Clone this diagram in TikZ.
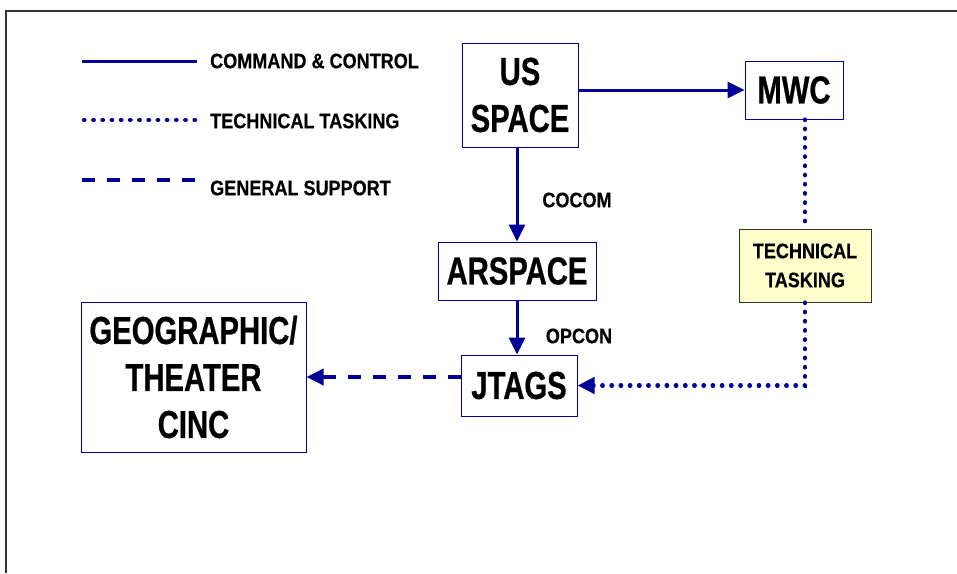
\documentclass[tikz,border=0pt]{standalone}
\usepackage{fontspec}
\setmainfont{Liberation Sans}
\newfontfamily\bigf[FakeStretch=0.75,FakeBold=0.6]{Liberation Sans}
\newfontfamily\smallf[FakeStretch=0.86,FakeBold=0.4]{Liberation Sans}
\usetikzlibrary{arrows.meta}
\definecolor{navy}{RGB}{0,0,153}
\definecolor{ttfill}{RGB}{255,255,204}
\begin{document}
\begin{tikzpicture}[x=1pt,y=-1pt,
 box/.style={draw=navy,line width=1pt,inner sep=0pt,align=center,font=\bigf\bfseries\fontsize{39}{47}\selectfont},
 lbl/.style={font=\smallf\bfseries\fontsize{21}{29}\selectfont,inner sep=0pt,align=center},
 ccline/.style={draw=navy,line width=3pt},
 ttline/.style={draw=navy,line width=4.2pt,line cap=round,dash pattern=on 0.6pt off 8.6pt},
 gsline/.style={draw=navy,line width=3.5pt,dash pattern=on 13pt off 12pt},
 tip/.style={-{Triangle[length=17pt,width=16pt]}}]
\useasboundingbox (0,0) rectangle (957,573);
\fill[white] (0,0) rectangle (957,573);
% frame
\coordinate (fr1) at (957,11);
\coordinate (fr2) at (6,11);
\coordinate (fr3) at (6,573);
\draw[line width=1.5pt,black!80] (fr1) -- (fr2) -- (fr3);
% legend
\coordinate (l1a) at (82,61); \coordinate (l1b) at (197,61);
\coordinate (l2a) at (84,120); \coordinate (l2b) at (197,120);
\coordinate (l3a) at (82,180); \coordinate (l3b) at (197,180);
\draw[ccline] (l1a) -- (l1b);
\draw[ttline] (l2a) -- (l2b);
\draw[gsline] (l3a) -- (l3b);
\node[lbl,anchor=west] (t1) at (210,61) {COMMAND \& CONTROL};
\node[lbl,anchor=west] (t2) at (210,121) {TECHNICAL TASKING};
\node[lbl,anchor=west] (t3) at (210,188) {GENERAL SUPPORT};
% boxes
\node[box,minimum width=116pt,minimum height=104pt] (us) at (520,95) {US\\SPACE};
\node[box,minimum width=98pt,minimum height=58pt] (mwc) at (794,90) {MWC};
\node[box,minimum width=158pt,minimum height=58pt] (ar) at (517,271) {ARSPACE};
\node[box,minimum width=116pt,minimum height=61pt] (jt) at (519,385.5) {JTAGS};
\node[box,minimum width=225pt,minimum height=150pt] (geo) at (193.5,377) {GEOGRAPHIC/\\THEATER\\CINC};
\node[lbl,draw=black!80,line width=1pt,fill=ttfill,minimum width=132pt,minimum height=73pt] (tt) at (805,265.5) {TECHNICAL\\TASKING};
\node[lbl] (cocom) at (577,200) {COCOM};
\node[lbl] (opcon) at (579,336) {OPCON};
% connectors
\draw[ccline,tip] (mwc.west -| us.east) -- (mwc.west);
\draw[ccline,tip] (us.south -| ar.north) -- (ar.north);
\draw[ccline,tip] (ar.south) -- (ar.south |- jt.north);
\draw[gsline,tip] (geo.east -| jt.west) -- (geo.east);
\draw[ttline] (mwc.south -| tt.north) -- (tt.north);
\draw[ttline,tip] (tt.south) -- (tt.south |- jt.east) -- (jt.east);
\end{tikzpicture}
\end{document}
